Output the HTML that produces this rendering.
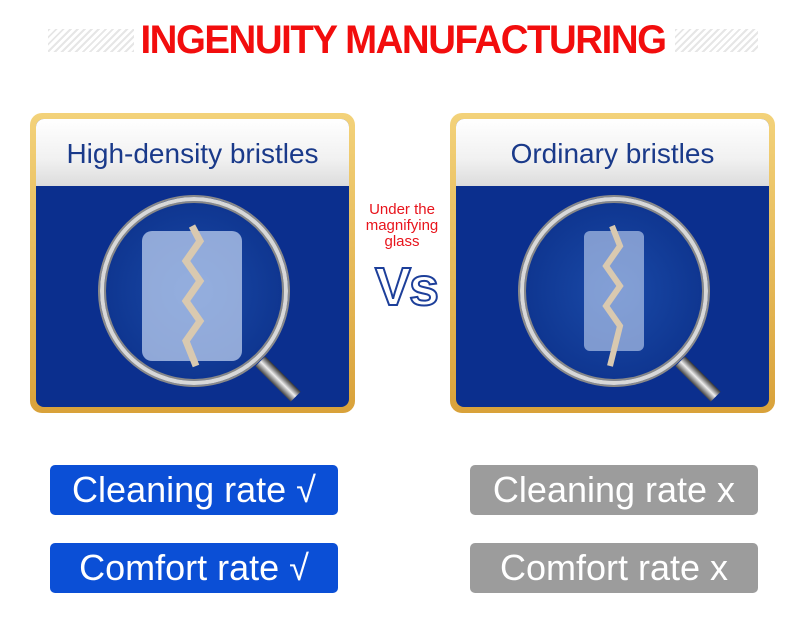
<!DOCTYPE html>
<html><head><style>
body{margin:0;width:790px;height:626px;background:#fff;position:relative;overflow:hidden;font-family:"Liberation Sans",sans-serif}
.hatch{position:absolute;top:29px;height:23px;background:repeating-linear-gradient(135deg,#e6e6e6 0 2px,#fff 2px 5px)}
.title{position:absolute;left:100px;top:18px;width:606px;text-align:center;color:#f20d0d;font-weight:bold;font-size:40px;letter-spacing:-1.5px;transform:scaleX(0.96);white-space:nowrap}
.panel{position:absolute;top:113px;width:325px;height:300px;border-radius:12px;background:linear-gradient(#f3d27a,#d9a23a);}
.inner{position:absolute;left:6px;top:6px;right:6px;bottom:6px;border-radius:8px;overflow:hidden;background:#0b2f8e}
.hdr{height:67px;background:linear-gradient(#fff,#f1f1f1 60%,#dcdcdc);color:#1a3a8a;font-size:28px;text-align:center;line-height:70px}
.glass{position:absolute;border-radius:50%;border:4px solid #d8d8d8;box-shadow:0 0 0 2px #8a8a8a,inset 0 0 0 2px #888;background:radial-gradient(#1a4aa8,#0a2d86)}
.handle{position:absolute;width:14px;height:50px;background:linear-gradient(90deg,#444,#eee,#333);transform:rotate(-45deg)}
.btn{position:absolute;width:288px;height:50px;border-radius:5px;color:#fff;font-size:36px;text-align:center;line-height:50px}
.b{background:#0b4fd6}.g{background:#9c9c9c}
</style></head><body>
<div class="hatch" style="left:48px;width:86px"></div>
<div class="hatch" style="left:675px;width:83px"></div>
<div class="title">INGENUITY MANUFACTURING</div>

<div class="panel" style="left:30px"><div class="inner">
<div class="hdr">High-density bristles</div>
<div class="handle" style="left:235px;top:235px"></div>
<div class="glass" style="left:64px;top:78px;width:180px;height:180px">
<svg width="180" height="180" viewBox="0 0 180 180"><rect x="38" y="30" width="100" height="130" fill="#c8d8f5" opacity=".7" rx="10"/><path d="M88 25 L96 40 L82 60 L96 80 L82 100 L96 120 L82 140 L92 165" stroke="#d9c9b0" stroke-width="7" fill="none"/></svg>
</div></div></div>

<div class="panel" style="left:450px"><div class="inner">
<div class="hdr">Ordinary bristles</div>
<div class="handle" style="left:235px;top:235px"></div>
<div class="glass" style="left:64px;top:78px;width:180px;height:180px">
<svg width="180" height="180" viewBox="0 0 180 180"><rect x="60" y="30" width="60" height="120" fill="#c8d8f5" opacity=".6" rx="6"/><path d="M88 25 L96 45 L82 65 L96 85 L82 105 L96 125 L86 165" stroke="#d9c9b0" stroke-width="6" fill="none"/></svg>
</div></div></div>

<div style="position:absolute;left:352px;top:202px;width:100px;text-align:center;color:#e8141c;font-size:15px;line-height:16px">Under the<br>magnifying<br>glass</div>
<div style="position:absolute;left:362px;top:256px;width:88px;text-align:center;color:#fff;font-size:54px;font-weight:bold;-webkit-text-stroke:2px #1d3f9a;letter-spacing:-2px">Vs</div>

<div class="btn b" style="left:50px;top:465px">Cleaning rate √</div>
<div class="btn b" style="left:50px;top:543px">Comfort rate √</div>
<div class="btn g" style="left:470px;top:465px">Cleaning rate x</div>
<div class="btn g" style="left:470px;top:543px">Comfort rate x</div>
</body></html>
